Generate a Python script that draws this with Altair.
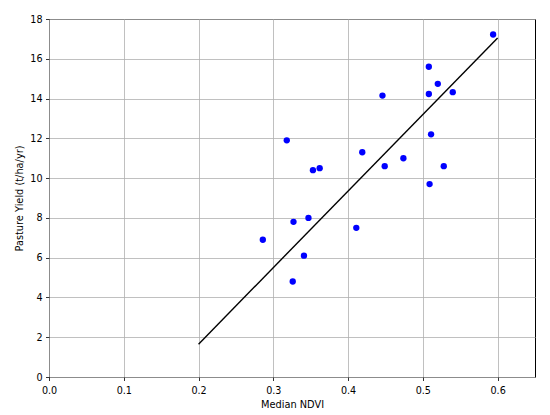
import altair as alt
import pandas as pd

ndvi = [0.286, 0.318, 0.327, 0.326, 0.341, 0.347, 0.353, 0.362, 0.411, 0.419,
        0.446, 0.449, 0.474, 0.508, 0.508, 0.509, 0.511, 0.520, 0.528, 0.540, 0.594]
yield_ = [6.9, 11.9, 7.8, 4.8, 6.1, 8.0, 10.4, 10.5, 7.5, 11.3,
          14.15, 10.6, 11.0, 15.6, 14.23, 9.7, 12.2, 14.74, 10.6, 14.32, 17.22]

fit_x = [0.2, 0.6]
fit_y = [1.65, 17.05]

x_ticks = [0.0, 0.1, 0.2, 0.3, 0.4, 0.5, 0.6]
y_ticks = [0, 2, 4, 6, 8, 10, 12, 14, 16, 18]

pts = pd.DataFrame({"ndvi": ndvi, "yield": yield_})
fit = pd.DataFrame({"ndvi": fit_x, "yield": fit_y})

FONT = "DejaVu Sans"

xscale = alt.Scale(domain=[0, 0.65], nice=False, zero=False)
yscale = alt.Scale(domain=[0, 18], nice=False)

xaxis = alt.Axis(title="Median NDVI", values=x_ticks, format=".1f", grid=True,
                 labelOverlap=False, labelFlush=False, labelPadding=4.5,
                 titlePadding=5)
yaxis = alt.Axis(title="Pasture Yield (t/ha/yr)", values=y_ticks, format="d",
                 grid=True, labelOverlap=False, labelFlush=False,
                 labelPadding=3.5, titlePadding=5)

points = alt.Chart(pts).mark_circle(color="#0000ff", opacity=1, size=40).encode(
    x=alt.X("ndvi:Q", scale=xscale, axis=xaxis),
    y=alt.Y("yield:Q", scale=yscale, axis=yaxis),
)

line = alt.Chart(fit).mark_line(color="black", strokeWidth=1.4).encode(
    x=alt.X("ndvi:Q", scale=xscale, axis=xaxis),
    y=alt.Y("yield:Q", scale=yscale, axis=yaxis),
)

chart = (line + points).properties(
    width=486, height=358,
    autosize=alt.AutoSizeParams(type="none"),
    padding={"left": 41, "top": 11, "right": 5, "bottom": 38},
).configure_view(
    stroke="black", strokeWidth=1
).configure_axis(
    labelFont=FONT, titleFont=FONT, labelFontSize=9.6, titleFontSize=9.8,
    titleFontWeight="normal", labelColor="black", titleColor="black",
    domain=False, tickColor="black", tickSize=3.5, tickWidth=0.8,
    gridColor="#b0b0b0", gridWidth=0.8,
)

chart.save("out.html", embed_options={"renderer": "svg", "actions": False})
